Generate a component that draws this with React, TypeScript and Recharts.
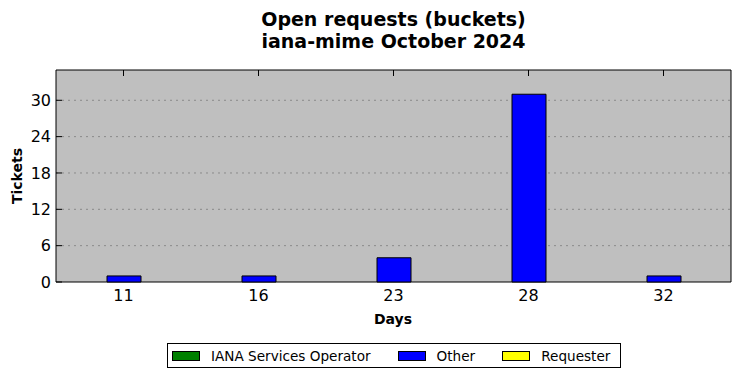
import { BarChart, Bar, XAxis, YAxis, CartesianGrid, ReferenceArea } from "recharts";

const days = ["11", "16", "23", "28", "32"];
const ianaOperator = [0, 0, 0, 0, 0];
const other = [1, 1, 4, 31, 1];
const requester = [0, 0, 0, 0, 0];
const yTicks = [0, 6, 12, 18, 24, 30];

const series = [
  { key: "iana", name: "IANA Services Operator", color: "#008000" },
  { key: "other", name: "Other", color: "#0000ff" },
  { key: "requester", name: "Requester", color: "#ffff00" },
];

const data = days.map((day, i) => ({
  day,
  iana: ianaOperator[i],
  other: other[i],
  requester: requester[i],
}));

const FONT = "'DejaVu Sans', sans-serif";
const TICK_LEN = 6;

// bottom tick marks sit under the bars in the original, so only labels here
function BottomTick({ x, y, payload }: any) {
  return (
    <text x={x} y={y + 8} dy="0.71em" textAnchor="middle" fontSize={16} fontFamily={FONT} fill="#000">
      {payload.value}
    </text>
  );
}

function TopTick({ x, y }: any) {
  return <line x1={x} y1={y} x2={x} y2={y + TICK_LEN} stroke="#000" />;
}

function LeftTick({ x, y, payload }: any) {
  return (
    <g>
      <line x1={x} y1={y} x2={x + TICK_LEN} y2={y} stroke="#000" />
      <text x={x - 5} y={y} dy="0.36em" textAnchor="end" fontSize={16} fontFamily={FONT} fill="#000">
        {payload.value}
      </text>
    </g>
  );
}

function RightTick({ x, y }: any) {
  return <line x1={x} y1={y} x2={x - TICK_LEN} y2={y} stroke="#000" />;
}

export default function App() {
  return (
    <div style={{ position: "absolute", left: 0, top: 0, width: 741, height: 378, background: "#fff", fontFamily: FONT }}>
      <div
        style={{
          position: "absolute",
          left: 56,
          top: 8,
          width: 675,
          textAlign: "center",
          fontSize: 19,
          fontWeight: "bold",
          lineHeight: "22px",
        }}
      >
        Open requests (buckets)
        <br />
        iana-mime October 2024
      </div>

      <BarChart
        width={741}
        height={378}
        data={data}
        margin={{ top: 60, right: 0, bottom: 66, left: 0 }}
        barCategoryGap={0}
      >
        <CartesianGrid vertical={false} horizontalValues={[6, 12, 18, 24, 30]} fill="#bfbfbf" stroke="#8a8a8a" strokeDasharray="2 4" />
        <XAxis
          dataKey="day"
          tick={<BottomTick />}
          tickLine={false}
          tickSize={0}
          tickMargin={0}
          height={30}
          axisLine={false}
          interval={0}
        />
        <XAxis
          xAxisId="top"
          orientation="top"
          dataKey="day"
          tick={<TopTick />}
          tickLine={false}
          tickSize={0}
          tickMargin={0}
          height={10}
          axisLine={false}
          interval={0}
        />
        <YAxis
          domain={[0, 35]}
          ticks={yTicks}
          tick={<LeftTick />}
          tickLine={false}
          tickSize={0}
          tickMargin={0}
          width={56}
          axisLine={false}
          interval={0}
        />
        <YAxis
          yAxisId="right"
          orientation="right"
          domain={[0, 35]}
          ticks={yTicks}
          tick={<RightTick />}
          tickLine={false}
          tickSize={0}
          tickMargin={0}
          width={10}
          axisLine={false}
          interval={0}
        />
        {series.map((s) => (
          <Bar
            key={s.key}
            dataKey={s.key}
            name={s.name}
            stackId="a"
            fill={s.color}
            stroke="#000"
            strokeWidth={1}
            barSize={34}
            isAnimationActive={false}
          />
        ))}
        <ReferenceArea y1={0} y2={35} fill="none" fillOpacity={0} stroke="#000" strokeWidth={1} ifOverflow="visible" />
      </BarChart>

      <div
        style={{
          position: "absolute",
          left: 17,
          top: 176,
          transform: "translate(-50%, -50%) rotate(-90deg)",
          fontSize: 14,
          fontWeight: "bold",
          whiteSpace: "nowrap",
        }}
      >
        Tickets
      </div>
      <div
        style={{
          position: "absolute",
          left: 393,
          top: 319,
          transform: "translate(-50%, -50%)",
          fontSize: 14,
          fontWeight: "bold",
        }}
      >
        Days
      </div>

      <div
        style={{
          position: "absolute",
          left: 167,
          top: 343,
          width: 454,
          height: 25,
          boxSizing: "border-box",
          border: "1px solid #000",
          display: "flex",
          alignItems: "center",
          paddingLeft: 4,
          fontSize: 13.6,
          whiteSpace: "nowrap",
          overflow: "hidden",
        }}
      >
        {series.map((s) => (
          <div key={s.key} style={{ display: "flex", alignItems: "center", marginRight: 27, flexShrink: 0 }}>
            <span
              style={{
                display: "inline-block",
                width: 28,
                height: 10,
                boxSizing: "border-box",
                background: s.color,
                border: "1px solid #000",
                marginRight: 11,
              }}
            />
            <span>{s.name}</span>
          </div>
        ))}
      </div>
    </div>
  );
}
